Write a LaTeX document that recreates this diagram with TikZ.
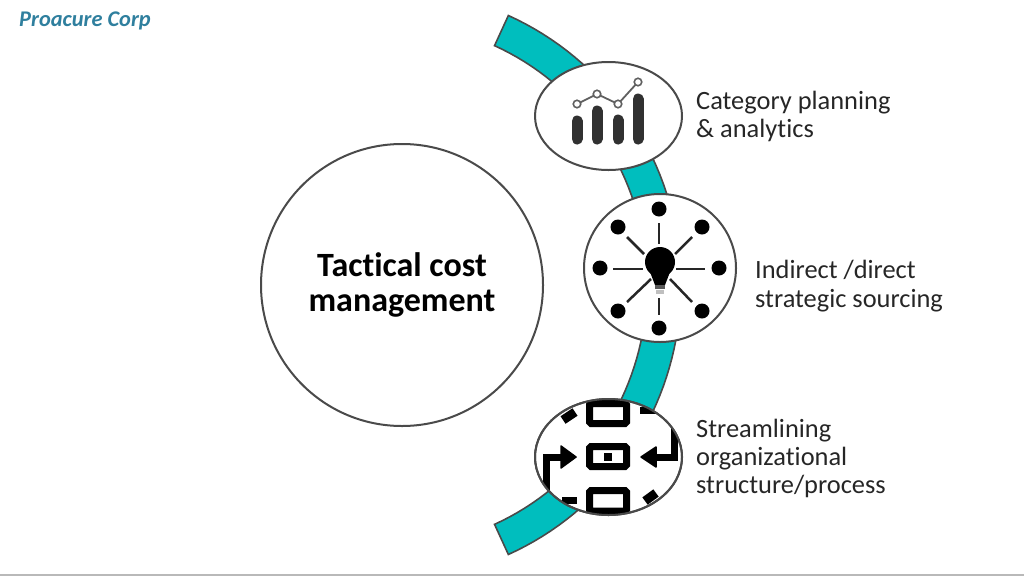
\documentclass[tikz,border=0pt]{standalone}
\usepackage{fontspec}
\setmainfont[RawFeature=-liga]{Carlito}
\usetikzlibrary{shapes.geometric,arrows.meta}
\definecolor{teal1}{HTML}{00BEBE}
\definecolor{edge}{HTML}{4A4A4A}
\definecolor{ink}{HTML}{262626}
\definecolor{brand}{HTML}{2F7F9E}
\tikzset{
  bubble/.style={ellipse,draw=edge,line width=2pt,fill=white,inner sep=0pt},
  label/.style={anchor=west,align=left,text=ink,font=\fontsize{26.4}{28.3}\selectfont,inner sep=0pt},
  bar/.style={line width=11pt,line cap=round,draw=ink!95},
  spark/.style={draw=gray!75!black,line width=1.8pt},
  sparkdot/.style={circle,draw=gray!75!black,line width=1.6pt,fill=white,minimum size=7.5pt,inner sep=0pt},
  spoke/.style={draw=ink,line width=2.5pt},
  hubdot/.style={circle,fill=black,minimum size=15pt,inner sep=0pt},
  flowbox/.style={draw=black,line width=7pt,rounded corners=1.5pt,fill=white},
  flowline/.style={draw=black,line width=7pt},
  flowhead/.style={fill=black,draw=black,line width=1.5pt,line join=round}
}
\begin{document}
\begin{tikzpicture}[x=1pt,y=-1pt]
\useasboundingbox (0,0) rectangle (1024,576);
\fill[gray!55] (0,574) rectangle (1024,576);
% band
\draw[fill=teal1,draw=edge,line width=1.6pt,line join=miter]
  plot[domain=-66:66,samples=70] ({390+291*cos(\x)},{285+295*sin(\x)}) --
  plot[domain=66:-66,samples=70] ({390+257*cos(\x)},{285+262*sin(\x)}) -- cycle;
% central
\node[bubble,minimum width=282pt,minimum height=282pt,font=\fontsize{34}{36}\selectfont\bfseries,align=center,text=black] (core) at (402,285) {Tactical cost\\[-1pt]management};
% bubble 1
\node[bubble,minimum width=147pt,minimum height=108pt] (b1) at (608.5,116) {};
\draw[bar] (577,121) -- (577,139);
\draw[bar] (597,111) -- (597,139);
\draw[bar] (618,120) -- (618,139);
\draw[bar] (638,99) -- (638,139);
\draw[spark] (577,104) -- (597,94) -- (618,104) -- (638,82);
\node[sparkdot] (s1) at (577,104) {};
\node[sparkdot] (s2) at (597,94) {};
\node[sparkdot] (s3) at (618,104) {};
\node[sparkdot] (s4) at (638,82) {};
% bubble 2
\node[bubble,minimum width=152pt,minimum height=148pt] (b2) at (660,268) {};
\foreach \n/\a/\b in {d1/659/209,d2/618/227,d3/702/227,d4/600/268,d5/719/268,d6/618/311,d7/702/311,d8/659/328}
  \node[hubdot] (\n) at (\a,\b) {};
\draw[spoke] (659,223) -- (659,244);
\draw[spoke] (627,237) -- (644,254);
\draw[spoke] (692,237) -- (675,254);
\draw[spoke] (613,269) -- (643,269);
\draw[spoke] (676,269) -- (705,269);
\draw[spoke] (627,302) -- (651,279);
\draw[spoke] (692,302) -- (670,279);
\draw[spoke] (659,298) -- (659,315);
\fill[black] (660,262) circle (15pt);
\fill[black] (650,272) -- (670,272) -- (665,285) -- (655,285) -- cycle;
\fill[gray!70!black] (655,285) rectangle (665,289);
\fill[gray!50] (656,290) rectangle (664,294);
% bubble 3
\node[bubble,minimum width=147pt,minimum height=116pt] (b3) at (608.5,457) {};
\begin{scope}
\clip (608.5,457) ellipse [x radius=73pt,y radius=57.5pt];
\draw[flowbox] (589.5,403.5) rectangle (626.5,423.5);
\draw[flowbox] (589.5,446.5) rectangle (626.5,466.5);
\fill[black] (603.5,452.5) rectangle (612,461);
\draw[flowbox] (589.5,490.5) rectangle (626.5,511);
\draw[flowline] (546,500) -- (546,457) -- (566,457);
\fill[flowhead] (576,457) -- (561,446) -- (561,468) -- cycle;
\draw[flowline] (562,500) -- (577,500);
\draw[flowline,line width=9pt] (563,420) -- (575,412);
\draw[flowline] (674,420) -- (674,457) -- (651,457);
\fill[flowhead] (641,457) -- (656,447) -- (656,467) -- cycle;
\draw[flowline] (640,410) -- (660,410);
\draw[flowline,line width=9pt] (645,501) -- (656,493);
\end{scope}
\draw[edge,line width=2pt] (608.5,457) ellipse [x radius=73.5pt,y radius=58pt];
% labels
\node[label] (t1) at (696,116.5) {Category planning\\\& analytics};
\node[label] (t2) at (755,286) {Indirect /direct\\strategic sourcing};
\node[label] (t3) at (696,458.5) {Streamlining\\organizational\\structure/process};
\node[anchor=west,inner sep=0pt,text=brand,font=\fontsize{22.4}{24}\selectfont\bfseries\itshape] (brandname) at (19,21) {Proacure Corp};
\end{tikzpicture}
\end{document}
